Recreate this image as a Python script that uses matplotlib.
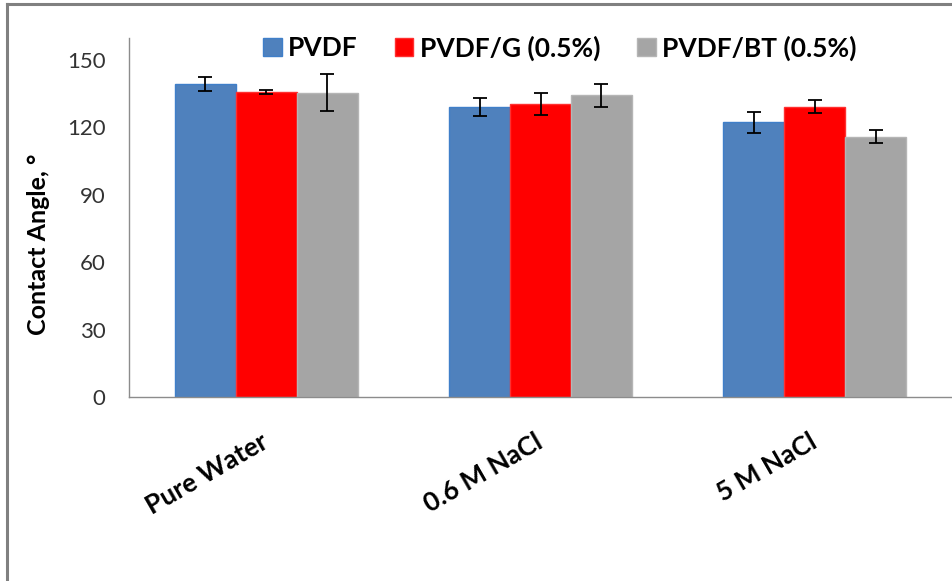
import matplotlib
matplotlib.use("Agg")
import matplotlib.pyplot as plt
import numpy as np
from matplotlib.lines import Line2D

# Contact angle data
categories = ["Pure Water", "0.6 M NaCl", "5 M NaCl"]
series_names = ["PVDF", "PVDF/G (0.5%)", "PVDF/BT (0.5%)"]
pvdf = [139.3, 129.2, 122.2]
pvdf_g = [135.9, 130.4, 129.2]
pvdf_bt = [135.4, 134.2, 115.8]
pvdf_err = [3.2, 4.0, 4.8]
pvdf_g_err = [0.9, 5.1, 2.9]
pvdf_bt_err = [8.3, 5.2, 2.9]
y_ticks = [0, 30, 60, 90, 120, 150]

plt.rcParams["font.family"] = ["Lato", "DejaVu Sans"]

W, H = 952, 581
fig = plt.figure(figsize=(W / 100, H / 100), dpi=100)
fig.patch.set_facecolor("white")

ax = fig.add_axes([129 / W, (H - 397) / H, (W - 129) / W, (397 - 37.5) / H])

values = [pvdf, pvdf_g, pvdf_bt]
errors = [pvdf_err, pvdf_g_err, pvdf_bt_err]
faces = ["#4F81BD", "#FF0000", "#A5A5A5"]
edges = ["#3f7fc9", "#ff3030", "#b5b5b5"]

x = np.arange(len(categories))
bw = 1 / 4.5
for i, (vals, errs) in enumerate(zip(values, errors)):
    pos = x + (i - 1) * bw
    ax.bar(pos, vals, width=bw, color=faces[i], edgecolor=edges[i], linewidth=1.0,
           label=series_names[i], zorder=2)
    ax.errorbar(pos, vals, yerr=errs, fmt="none", ecolor="black", elinewidth=1.3,
                capsize=4.8, capthick=1.3, zorder=3)

ax.set_xlim(-0.5, 2.5)
ax.set_ylim(0, 160)
ax.set_yticks(y_ticks)
ax.set_yticklabels([str(v) for v in y_ticks], fontsize=16, color="#333333")
ax.tick_params(axis="y", length=0, pad=17)

ax.set_xticks(x)
ax.set_xticklabels(categories, fontsize=19, fontweight="bold", color="black")
ax.tick_params(axis="x", length=0, pad=31)
for lbl in ax.get_xticklabels():
    lbl.set_rotation(30)
    lbl.set_ha("right")
    lbl.set_va("center")
    lbl.set_rotation_mode("anchor")

for side in ["top", "right"]:
    ax.spines[side].set_visible(False)
for side in ["left", "bottom"]:
    ax.spines[side].set_color("#8c8c8c")
    ax.spines[side].set_linewidth(1.0)

fig.text(39 / W, 1 - 244 / H, "Contact Angle, °", rotation=90, ha="center", va="center",
         fontsize=18, fontweight="bold", color="black")

leg = ax.legend(loc="center", bbox_to_anchor=(560 / W, 1 - 48 / H),
                bbox_transform=fig.transFigure, ncol=3, frameon=False,
                prop={"size": 19, "weight": "bold"},
                handlelength=0.7, handleheight=0.7, handletextpad=0.25,
                columnspacing=1.4, borderpad=0)

# Outer chart frame (top and left edges)
fig.add_artist(Line2D([7 / W, 1], [1 - 4 / H, 1 - 4 / H], color="#808080", linewidth=2.2,
                      transform=fig.transFigure))
fig.add_artist(Line2D([7 / W, 7 / W], [0, 1 - 4 / H], color="#808080", linewidth=2.2,
                      transform=fig.transFigure))

fig.savefig("out.png", dpi=100, facecolor="white")
